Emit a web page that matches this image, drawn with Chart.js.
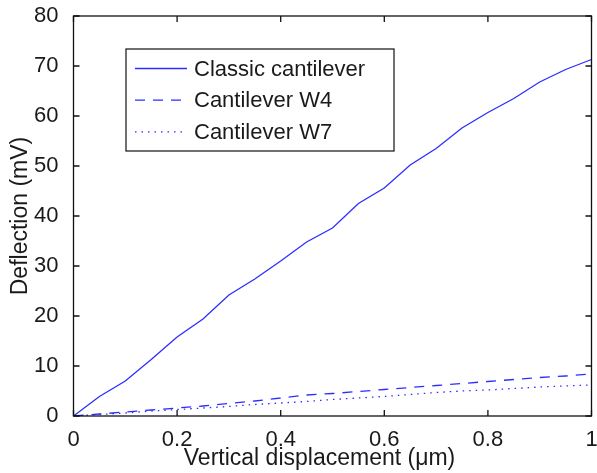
<!DOCTYPE html>
<html>
<head>
<meta charset="utf-8">
<script src="https://cdn.jsdelivr.net/npm/chart.js@4/dist/chart.umd.min.js"></script>
<style>
  html, body { margin: 0; padding: 0; background: #fff; }
  canvas { display: block; }
</style>
</head>
<body>
<canvas id="chart" width="597" height="473"></canvas>
<script>
const displacement = [0, 0.05, 0.1, 0.15, 0.2, 0.25, 0.3, 0.35, 0.4, 0.45, 0.5, 0.55, 0.6, 0.65, 0.7, 0.75, 0.8, 0.85, 0.9, 0.95, 1.0];
const classic = [0, 3.9, 7.0, 11.3, 15.8, 19.4, 24.2, 27.4, 31.0, 34.8, 37.6, 42.5, 45.6, 50.2, 53.5, 57.6, 60.7, 63.5, 66.8, 69.3, 71.3];
const w4 = [0, 0.4, 0.8, 1.2, 1.6, 2.0, 2.5, 3.0, 3.6, 4.2, 4.5, 4.9, 5.3, 5.7, 6.1, 6.5, 6.9, 7.3, 7.7, 8.0, 8.4];
const w7 = [0, 0.3, 0.6, 1.0, 1.3, 1.6, 1.9, 2.3, 2.6, 2.9, 3.3, 3.6, 3.9, 4.3, 4.7, 5.0, 5.2, 5.5, 5.8, 6.0, 6.2];
const seriesNames = ['Classic cantilever', 'Cantilever W4', 'Cantilever W7'];
const xTitle = 'Vertical displacement (μm)';

const blue = 'rgb(45,45,255)';
const font = "'Liberation Sans', Arial, sans-serif";

const toPts = ys => displacement.map((x, i) => ({x: x, y: ys[i]}));

// frame with inward ticks on all four sides
const framePlugin = {
  id: 'frame',
  afterDraw(chart) {
    const ctx = chart.ctx, a = chart.chartArea;
    const xs = chart.scales.x, ys = chart.scales.y;
    const len = 6;
    ctx.save();
    ctx.strokeStyle = '#111';
    ctx.lineWidth = 1.3;
    ctx.strokeRect(a.left, a.top, a.right - a.left, a.bottom - a.top);
    ctx.beginPath();
    xs.ticks.forEach(t => {
      const px = xs.getPixelForValue(t.value);
      ctx.moveTo(px, a.bottom); ctx.lineTo(px, a.bottom - len);
      ctx.moveTo(px, a.top); ctx.lineTo(px, a.top + len);
    });
    ys.ticks.forEach(t => {
      const py = ys.getPixelForValue(t.value);
      ctx.moveTo(a.left, py); ctx.lineTo(a.left + len, py);
      ctx.moveTo(a.right, py); ctx.lineTo(a.right - len, py);
    });
    ctx.stroke();
    // x label sits a bit left of centre in the original
    ctx.fillStyle = '#1a1a1a';
    ctx.font = '23px ' + font;
    ctx.textAlign = 'center';
    ctx.textBaseline = 'alphabetic';
    ctx.fillText(xTitle, (a.left + a.right) / 2 - 13, 465);
    ctx.restore();
  }
};

// boxed legend inside the plot, like the matlab one
const legendBox = {
  id: 'legendBox',
  afterDatasetsDraw(chart) {
    const ctx = chart.ctx, a = chart.chartArea;
    const bx = a.left + 52.5, by = a.top + 33, bw = 268, bh = 102;
    ctx.save();
    ctx.fillStyle = '#fff';
    ctx.fillRect(bx, by, bw, bh);
    ctx.strokeStyle = '#111';
    ctx.lineWidth = 1.2;
    ctx.strokeRect(bx, by, bw, bh);
    chart.data.datasets.forEach((ds, i) => {
      const y = by + 19.5 + i * 31.7;
      ctx.strokeStyle = ds.borderColor;
      ctx.lineWidth = ds.borderWidth;
      ctx.setLineDash(ds.borderDash || []);
      ctx.beginPath();
      ctx.moveTo(bx + 9, y);
      ctx.lineTo(bx + 61, y);
      ctx.stroke();
      ctx.setLineDash([]);
      ctx.fillStyle = '#1a1a1a';
      ctx.font = '22px ' + font;
      ctx.textBaseline = 'middle';
      ctx.fillText(ds.label, bx + 68, y + 1);
    });
    ctx.restore();
  }
};

new Chart(document.getElementById('chart'), {
  type: 'line',
  data: {
    datasets: [{
      label: seriesNames[0],
      data: toPts(classic),
      borderColor: blue,
      borderWidth: 1.3,
      pointRadius: 0
    }, {
      label: seriesNames[1],
      data: toPts(w4),
      borderColor: blue,
      borderWidth: 1.3,
      borderDash: [10, 8],
      pointRadius: 0
    }, {
      label: seriesNames[2],
      data: toPts(w7),
      borderColor: blue,
      borderWidth: 1.3,
      borderDash: [1.5, 5],
      pointRadius: 0
    }]
  },
  options: {
    responsive: false,
    animation: false,
    layout: {padding: {left: 0, right: 5.5, top: 16, bottom: 0}},
    plugins: {legend: {display: false}, tooltip: {enabled: false}},
    scales: {
      x: {
        type: 'linear',
        min: 0, max: 1,
        grid: {display: false},
        border: {display: false},
        ticks: {
          stepSize: 0.2,
          padding: 3,
          color: '#1a1a1a',
          font: {family: font, size: 22},
          callback: v => String(+v.toFixed(1))
        },
        afterFit: s => { s.height = 57; s.paddingLeft = 0; s.paddingRight = 0; }
      },
      y: {
        min: 0, max: 80,
        grid: {display: false},
        border: {display: false},
        ticks: {
          stepSize: 10,
          padding: 7,
          color: '#1a1a1a',
          font: {family: font, size: 22}
        },
        title: {
          display: true,
          text: 'Deflection (mV)',
          color: '#1a1a1a',
          font: {family: font, size: 23},
          padding: {top: 7, bottom: 0}
        },
        afterFit: s => { s.width = 73.5; s.paddingTop = 0; s.paddingBottom = 0; }
      }
    }
  },
  plugins: [framePlugin, legendBox]
});
</script>
</body>
</html>
